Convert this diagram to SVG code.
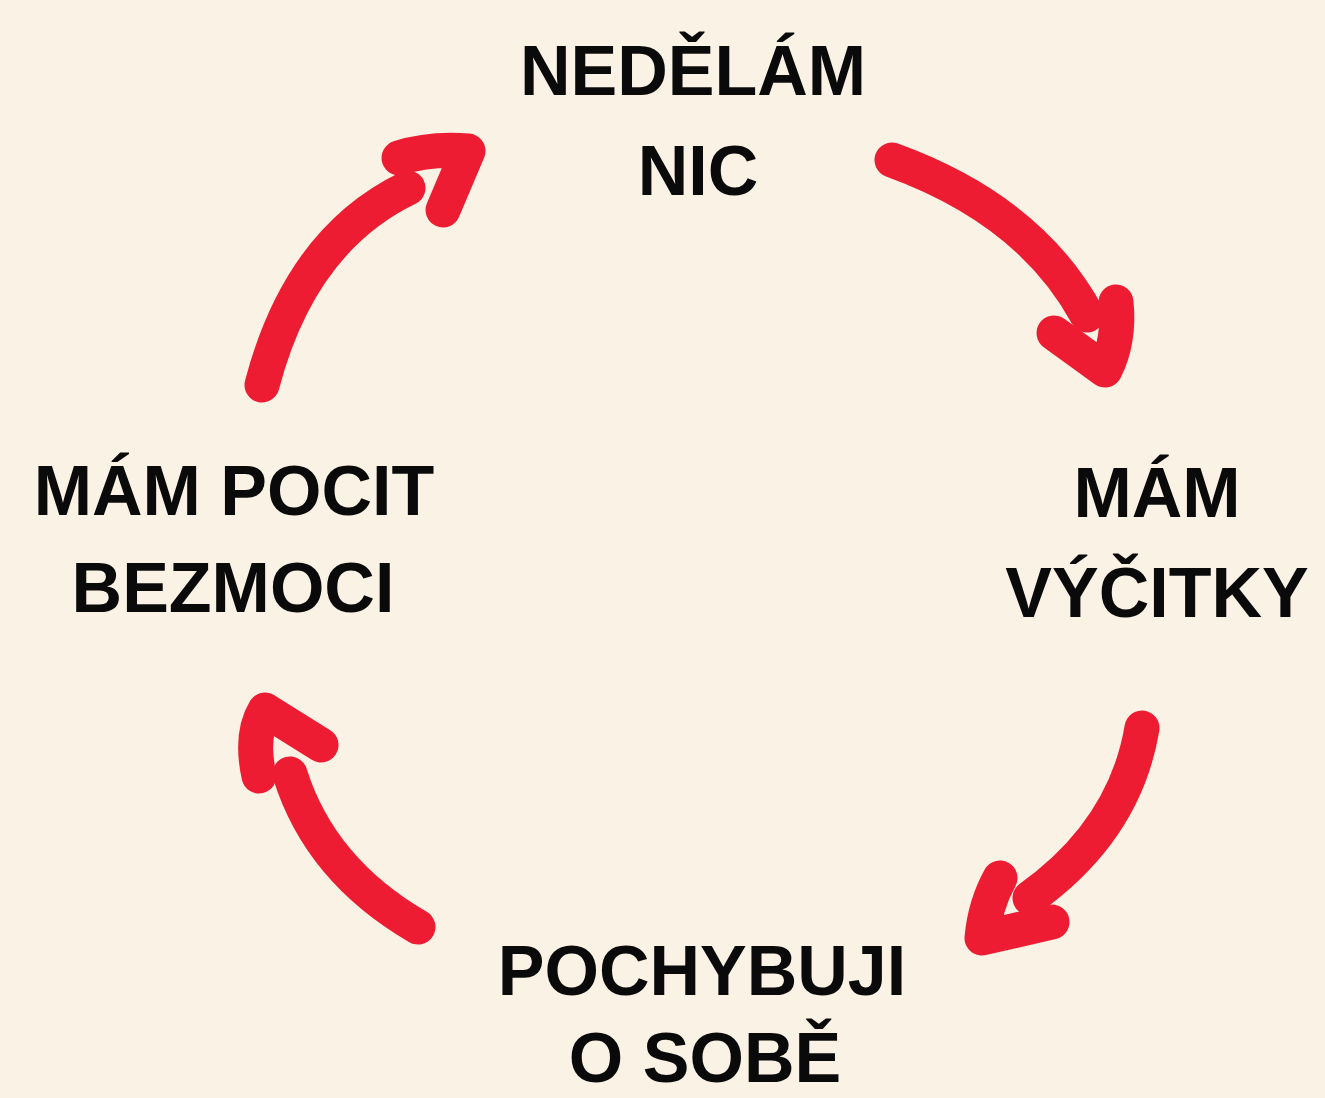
<svg xmlns="http://www.w3.org/2000/svg" width="1325" height="1098" viewBox="0 0 1325 1098">
<style>
.lbl{font-family:"Liberation Sans",Arial,sans-serif;font-weight:bold;font-size:70px;fill:#0a0a0a;text-anchor:middle}
.arr{fill:none;stroke:#ED1C33;stroke-width:35;stroke-linecap:round;stroke-linejoin:round}
</style>
<rect width="1325" height="1098" fill="#FAF2E4"/>
<g id="connectors">
<g id="arrow-top-right"><path class="arr" d="M892,160 Q1030,210 1087,315"/><path class="arr" d="M1054,333 L1105,370 Q1120,340 1116,302"/></g>
<g id="arrow-bottom-right"><path class="arr" d="M1142,728 Q1125,830 1030,898"/><path class="arr" d="M1000,878 Q985,905 982,938 L1052,922"/></g>
<g id="arrow-bottom-left"><path class="arr" d="M418,927 Q320,870 290,774"/><path class="arr" d="M259,776 Q250,735 265,710 L321,745"/></g>
<g id="arrow-top-left"><path class="arr" d="M262,385 Q300,240 408,188"/><path class="arr" d="M399,158 Q430,148 468,151 L443,210"/></g>
</g>
<g id="node-top"><text class="lbl" x="693" y="95">NEDĚLÁM</text><text class="lbl" x="698" y="195">NIC</text></g>
<g id="node-right"><text class="lbl" x="1157" y="517">MÁM</text><text class="lbl" x="1157" y="617">VÝČITKY</text></g>
<g id="node-bottom"><text class="lbl" x="702" y="995">POCHYBUJI</text><text class="lbl" x="705" y="1082">O SOBĚ</text></g>
<g id="node-left"><text class="lbl" x="234" y="515">MÁM POCIT</text><text class="lbl" x="233" y="612">BEZMOCI</text></g>
</svg>
